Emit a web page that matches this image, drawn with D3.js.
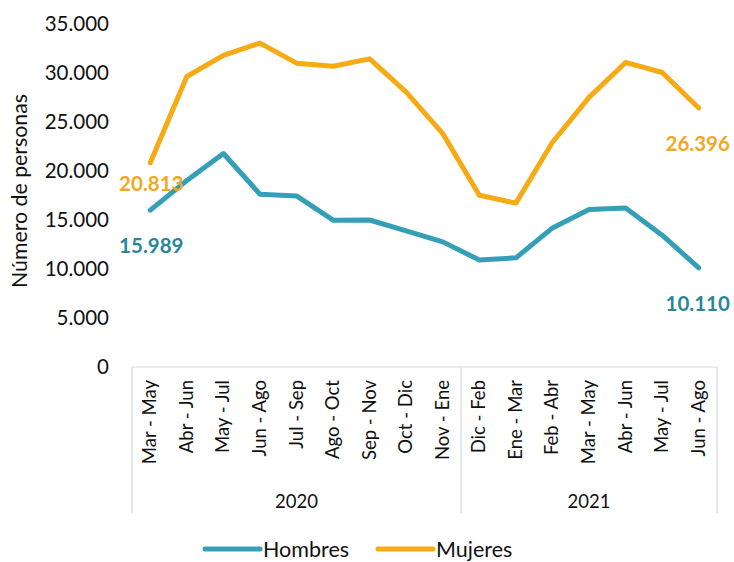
<!DOCTYPE html>
<html>
<head>
<meta charset="utf-8">
<script src="https://cdn.jsdelivr.net/npm/d3@7"></script>
<style>
  body { margin: 0; background: #fff; }
  svg { font-family: Lato, "Open Sans", sans-serif; }
</style>
</head>
<body>
<svg id="chart" width="734" height="562"></svg>
<script>
// periods (trimestres moviles) and the year they belong to
const periods = ["Mar - May", "Abr - Jun", "May - Jul", "Jun - Ago", "Jul - Sep", "Ago - Oct",
  "Sep - Nov", "Oct - Dic", "Nov - Ene", "Dic - Feb", "Ene - Mar", "Feb - Abr",
  "Mar - May", "Abr - Jun", "May - Jul", "Jun - Ago"];
const years = [{ name: "2020", count: 9 }, { name: "2021", count: 7 }];
const hombres = [15989, 19000, 21750, 17600, 17430, 14960, 14980, 13870, 12750,
  10900, 11120, 14170, 16040, 16200, 13430, 10110];
const mujeres = [20813, 29600, 31750, 33000, 30960, 30650, 31400, 28000, 23780,
  17500, 16700, 22900, 27470, 31030, 30010, 26396];
const yTicks = [0, 5000, 10000, 15000, 20000, 25000, 30000, 35000];

const svg = d3.select("#chart");
const plotLeft = 132, plotRight = 717, plotTop = 23.5, plotBottom = 367;

const x = d3.scaleBand().domain(d3.range(periods.length)).range([plotLeft, plotRight]);
const y = d3.scaleLinear().domain([0, 35000]).range([plotBottom, plotTop]);
const fmt = d3.formatLocale({ decimal: ",", thousands: ".", grouping: [3], currency: ["", ""] }).format(",");

// y axis labels (no line)
const yAxis = svg.append("g")
  .attr("transform", `translate(${plotLeft - 23},0)`)
  .call(d3.axisLeft(y).tickValues(yTicks).tickSize(0).tickPadding(0).tickFormat(fmt));
yAxis.select(".domain").remove();
yAxis.selectAll("text").attr("font-size", 20.5).attr("fill", "#111").attr("font-family", "Lato, 'Open Sans', sans-serif");

svg.append("text")
  .attr("transform", "translate(27,191) rotate(-90)")
  .attr("text-anchor", "middle")
  .attr("font-size", 21.3)
  .attr("fill", "#111")
  .text("Número de personas");

// category axis with year groups
const axisG = svg.append("g").attr("stroke", "#d9d9d9").attr("stroke-width", 1.2);
axisG.append("line").attr("x1", plotLeft).attr("x2", plotRight).attr("y1", plotBottom).attr("y2", plotBottom);
let start = 0;
const bounds = [0];
years.forEach(yr => { start += yr.count; bounds.push(start); });
const boundX = b => (b === periods.length ? plotRight : x(b));
bounds.forEach(b => {
  axisG.append("line").attr("x1", boundX(b)).attr("x2", boundX(b)).attr("y1", plotBottom).attr("y2", 513);
});

svg.append("g").selectAll("text")
  .data(periods)
  .join("text")
  .attr("transform", (d, i) => `translate(${x(i) + x.bandwidth() / 2 + 6},${plotBottom + 13}) rotate(-90)`)
  .attr("text-anchor", "end")
  .attr("font-size", 18.5)
  .attr("fill", "#111")
  .text(d => d);

svg.append("g").selectAll("text")
  .data(years)
  .join("text")
  .attr("x", (d, i) => (boundX(bounds[i]) + boundX(bounds[i + 1])) / 2)
  .attr("y", 508)
  .attr("text-anchor", "middle")
  .attr("font-size", 18.5)
  .attr("fill", "#111")
  .text(d => d.name);

// lines
const series = [
  { name: "Hombres", values: hombres, color: "#369fb8", label: "#2b8597" },
  { name: "Mujeres", values: mujeres, color: "#f6aa14", label: "#f3a722" }
];
const line = d3.line()
  .x((d, i) => x(i) + x.bandwidth() / 2)
  .y(d => y(d));

svg.append("g").selectAll("path")
  .data(series)
  .join("path")
  .attr("d", s => line(s.values))
  .attr("fill", "none")
  .attr("stroke", s => s.color)
  .attr("stroke-width", 5)
  .attr("stroke-linecap", "round")
  .attr("stroke-linejoin", "round");

// first and last data labels
const labelOffsets = { Hombres: [43, 43], Mujeres: [28, 43] };
series.forEach(s => {
  const last = s.values.length - 1;
  [0, last].forEach((idx, k) => {
    svg.append("text")
      .attr("x", x(idx) + x.bandwidth() / 2 + (k === 0 ? 1 : -1))
      .attr("y", y(s.values[idx]) + labelOffsets[s.name][k])
      .attr("text-anchor", "middle")
      .attr("font-size", 20.5)
      .attr("font-weight", "bold")
      .attr("fill", s.label)
      .text(fmt(s.values[idx]));
  });
});

// legend
const legend = svg.append("g");
const legendX = [205, 378];
series.forEach((s, i) => {
  legend.append("line")
    .attr("x1", legendX[i]).attr("x2", legendX[i] + 55)
    .attr("y1", 549).attr("y2", 549)
    .attr("stroke", s.color).attr("stroke-width", 5).attr("stroke-linecap", "round");
  legend.append("text")
    .attr("x", legendX[i] + 58).attr("y", 557)
    .attr("font-size", 21.5)
    .attr("fill", "#111")
    .text(s.name);
});
</script>
</body>
</html>
